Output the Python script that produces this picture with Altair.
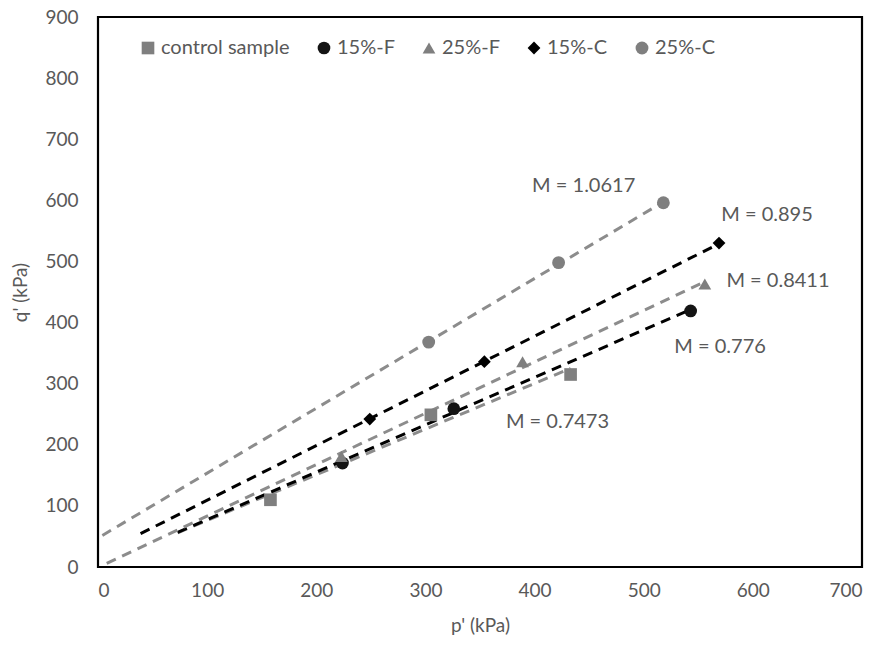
import altair as alt
import numpy as np
import pandas as pd

# Series names in legend order
series = ["control sample", "15%-F", "25%-F", "15%-C", "25%-C"]

# Mean effective stress p' (kPa) and deviator q' (kPa) per series
control_p = [158, 305, 433]
control_q = [110, 249, 315]
f15_p = [224, 326, 543]
f15_q = [170, 259, 419]
f25_p = [223, 389, 556]
f25_q = [181, 336, 463]
c15_p = [249, 354, 569]
c15_q = [242, 336, 530]
c25_p = [303, 422, 518]
c25_q = [368, 498, 596]

# Critical-state slope M of each trend line, and where each line starts on p'
slope_m = [0.7473, 0.776, 0.8411, 0.895, 1.0617]
trend_from = [73, 73, 8, 39, 4]

# Where the M annotations sit (p', q')
label_p = [421, 570, 623, 613, 445]
label_q = [237, 360, 468, 576, 623]

marker_colors = ["#7f7f7f", "#141414", "#7f7f7f", "#000000", "#7f7f7f"]
line_colors = ["#8c8c8c", "#000000", "#8c8c8c", "#000000", "#8c8c8c"]
shapes = ["square", "circle", "triangle-up", "diamond", "circle"]
marker_sizes = [160, 165, 200, 210, 165]

p_sets = [control_p, f15_p, f25_p, c15_p, c25_p]
q_sets = [control_q, f15_q, f25_q, c15_q, c25_q]

points = pd.DataFrame(
    [
        {"series": s, "p": p, "q": q}
        for s, ps, qs in zip(series, p_sets, q_sets)
        for p, q in zip(ps, qs)
    ]
)

# Trend lines q' = M p' + b, with b fitted to each series for the given M
trend_rows = []
for s, ps, qs, m, x0, col in zip(series, p_sets, q_sets, slope_m, trend_from, line_colors):
    b = float(np.mean(qs) - m * np.mean(ps))
    for x in (x0, max(ps)):
        trend_rows.append({"series": s, "p": x, "q": m * x + b, "lcolor": col})
trend = pd.DataFrame(trend_rows)

labels = pd.DataFrame(
    {
        "p": label_p,
        "q": label_q,
        "text": [f"M = {m:g}" for m in slope_m],
    }
)

FONT = "Lato"
TXT = "#595959"

x_enc = alt.X(
    "p:Q",
    scale=alt.Scale(domain=[0, 700], nice=False),
    axis=alt.Axis(values=list(range(0, 701, 100)), title="p' (kPa)"),
)
y_enc = alt.Y(
    "q:Q",
    scale=alt.Scale(domain=[0, 900], nice=False),
    axis=alt.Axis(values=list(range(0, 901, 100)), title="q' (kPa)"),
)

lines = (
    alt.Chart(trend)
    .mark_line(strokeWidth=3, strokeDash=[10, 7])
    .encode(
        x=x_enc,
        y=y_enc,
        detail="series:N",
        color=alt.Color("lcolor:N", scale=None),
    )
)


def legend_spec():
    return alt.Legend(
        title=None,
        orient="none",
        direction="horizontal",
        legendX=40,
        legendY=21,
        padding=0,
        symbolSize=160,
        symbolStrokeWidth=0,
        labelFont=FONT,
        labelFontSize=20,
        labelColor=TXT,
        labelOffset=3,
        columnPadding=24,
    )


marks = (
    alt.Chart(points)
    .mark_point(filled=True, opacity=1)
    .encode(
        x=x_enc,
        y=y_enc,
        color=alt.Color(
            "series:N",
            scale=alt.Scale(domain=series, range=marker_colors),
            legend=legend_spec(),
            sort=series,
        ),
        shape=alt.Shape(
            "series:N",
            scale=alt.Scale(domain=series, range=shapes),
            legend=legend_spec(),
            sort=series,
        ),
        size=alt.Size(
            "series:N",
            scale=alt.Scale(domain=series, range=marker_sizes),
            legend=None,
        ),
    )
)

notes = (
    alt.Chart(labels)
    .mark_text(font=FONT, fontSize=20, color=TXT, align="center", baseline="middle")
    .encode(x=x_enc, y=y_enc, text="text:N")
)

chart = (
    alt.layer(lines, marks, notes)
    .properties(
        width=764,
        height=550,
        autosize=alt.AutoSizeParams(type="none"),
        padding={"left": 98, "top": 17, "right": 20, "bottom": 86},
        background="white",
    )
    .configure_view(stroke="#000000", strokeWidth=2.2)
    .configure_axis(
        grid=False,
        ticks=False,
        domain=False,
        labelFont=FONT,
        labelFontSize=19,
        labelColor=TXT,
        titleFont=FONT,
        titleFontSize=19,
        titleColor=TXT,
        titleFontWeight="normal",
    )
    .configure_axisX(labelPadding=14, titlePadding=16)
    .configure_axisY(labelPadding=20, titlePadding=14)
)

chart.save("out.html", embed_options={"renderer": "svg", "actions": False})
